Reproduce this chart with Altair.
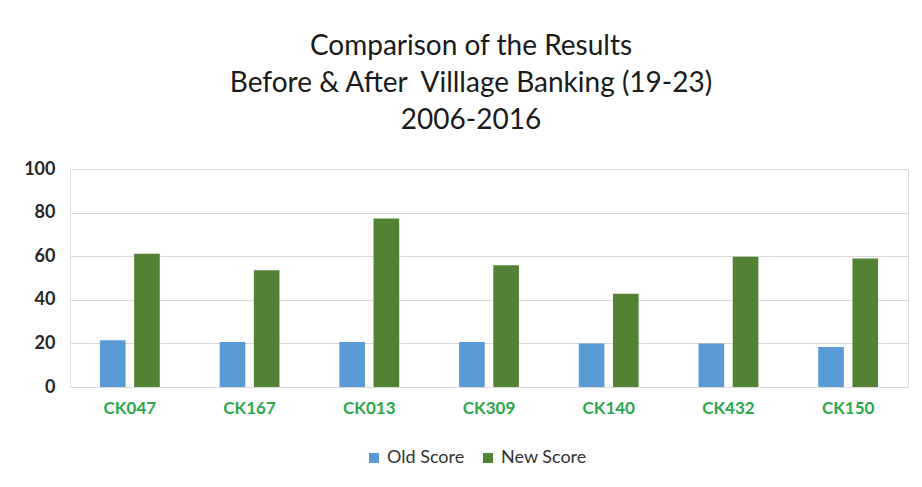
import altair as alt
import pandas as pd

categories = ["CK047", "CK167", "CK013", "CK309", "CK140", "CK432", "CK150"]
old_score = [21.4, 20.6, 20.6, 20.6, 19.9, 19.9, 18.3]
new_score = [61.1, 53.5, 77.3, 55.8, 42.8, 59.8, 58.9]
series = ["Old Score", "New Score"]
colors = ["#5b9bd5", "#548235"]

rows = []
for c, o, n in zip(categories, old_score, new_score):
    rows.append({"site": c, "series": series[0], "value": o})
    rows.append({"site": c, "series": series[1], "value": n})
df = pd.DataFrame(rows)

chart = alt.Chart(df).mark_bar().encode(
    x=alt.X("site:N", sort=categories, title=None,
            scale=alt.Scale(paddingInner=0.5, paddingOuter=0.25),
            axis=alt.Axis(labelAngle=0, labelColor="#2aa84a", labelFont="Lato",
                          labelFontWeight="bold", labelFontSize=17, labelPadding=13,
                          ticks=False, domain=False, grid=False)),
    xOffset=alt.XOffset("series:N", sort=series,
                        scale=alt.Scale(paddingInner=0.25, paddingOuter=0)),
    y=alt.Y("value:Q", title=None, scale=alt.Scale(domain=[0, 100]),
            axis=alt.Axis(values=[0, 20, 40, 60, 80, 100], labelFont="Lato",
                          labelFontWeight="bold", labelFontSize=18, labelColor="#262626",
                          labelPadding=15, ticks=False, domain=False,
                          gridColor="#d9d9d9", gridWidth=1)),
    color=alt.Color("series:N", sort=series,
                    scale=alt.Scale(domain=series, range=colors),
                    legend=alt.Legend(title=None, orient="none", direction="horizontal",
                                      legendX=295, legendY=280, symbolType="square",
                                      symbolSize=100, symbolStrokeWidth=0,
                                      labelFont="Lato", labelFontSize=18,
                                      labelColor="#333333", columnPadding=14,
                                      symbolOffset=0, labelOffset=4)),
).properties(
    width=838, height=218,
    title=alt.TitleParams(
        text=["Comparison of the Results",
              "Before & After\u00a0 Villlage Banking (19-23)",
              "2006-2016"],
        font="Lato", fontSize=28, fontWeight="normal", color="#1a1a1a",
        anchor="middle", lineHeight=37, offset=25, dx=-18),
    autosize=alt.AutoSizeParams(type="none"),
    padding={"left": 70, "top": 169, "right": 14, "bottom": 100},
).configure_view(stroke=None).configure(background="white")

chart.save("out.html", embed_options={"renderer": "svg", "actions": False})
